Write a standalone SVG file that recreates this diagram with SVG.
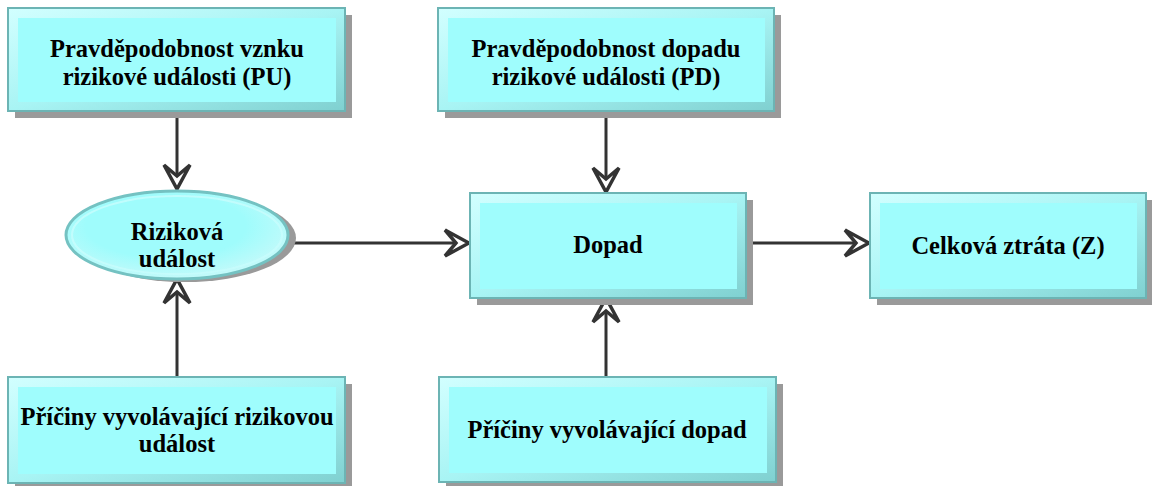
<svg xmlns="http://www.w3.org/2000/svg" width="1152" height="486" viewBox="0 0 1152 486">
  <defs>
    <linearGradient id="bevel" x1="0" y1="0" x2="1" y2="1">
      <stop offset="0" stop-color="#d2ffff"/>
      <stop offset="0.5" stop-color="#a8f4f4"/>
      <stop offset="1" stop-color="#7fd0d0"/>
    </linearGradient>
    <radialGradient id="ellFill" cx="0.45" cy="0.4" r="0.6">
      <stop offset="0.6" stop-color="#9ffcfc"/>
      <stop offset="1" stop-color="#c4fafa"/>
    </radialGradient>
    <marker id="chev" viewBox="-3 -16 30 32" refX="24" refY="0" markerWidth="30" markerHeight="32" markerUnits="userSpaceOnUse" orient="auto">
      <path d="M0,-13 L24,0 L0,13 L11,0 Z" fill="#ffffff" stroke="#333333" stroke-width="3.5" stroke-linejoin="miter"/>
    </marker>
  </defs>
  <style>
    .shadow { fill: #9a9a9a; }
    .outer { fill: url(#bevel); stroke: #6cb4b4; stroke-width: 2; }
    .inner { fill: #9ffdfd; }
    .label { font-family: 'Liberation Serif', 'Tinos', 'DejaVu Serif', serif; font-weight: 700; font-size: 24.5px; fill: #000000; text-anchor: middle; }
    .conn { stroke: #333333; stroke-width: 3; fill: none; marker-end: url(#chev); }
  </style>
  <rect width="1152" height="486" fill="#ffffff"/>

  <g id="connectors">
    <line class="conn" x1="177" y1="111" x2="177" y2="189"/>
    <line class="conn" x1="177" y1="377" x2="177" y2="279"/>
    <line class="conn" x1="289" y1="243" x2="469" y2="243"/>
    <line class="conn" x1="606" y1="112" x2="606" y2="192"/>
    <line class="conn" x1="606" y1="377" x2="606" y2="298"/>
    <line class="conn" x1="746" y1="243" x2="869" y2="243"/>
  </g>

  <g id="node-pu">
    <rect class="shadow" x="15" y="15" width="337" height="103"/>
    <rect class="outer" x="8" y="8" width="337" height="103"/>
    <rect class="inner" x="18" y="18" width="318" height="84"/>
    <text class="label" x="177" y="57">Pravděpodobnost vznku</text>
    <text class="label" x="177" y="85">rizikové události (PU)</text>
  </g>

  <g id="node-pd">
    <rect class="shadow" x="445" y="15" width="336" height="103"/>
    <rect class="outer" x="438" y="8" width="336" height="103"/>
    <rect class="inner" x="448" y="18" width="317" height="84"/>
    <text class="label" x="606" y="57">Pravděpodobnost dopadu</text>
    <text class="label" x="606" y="85">rizikové události (PD)</text>
  </g>

  <g id="node-udalost">
    <ellipse class="shadow" cx="185" cy="238" rx="111" ry="44"/>
    <ellipse cx="177" cy="235" rx="111" ry="44" fill="url(#ellFill)" stroke="#74c2c2" stroke-width="3"/>
    <ellipse cx="177" cy="235" rx="105" ry="39" fill="none" stroke="#c8fdfd" stroke-width="2" opacity="0.8"/>
    <text class="label" x="177" y="240">Riziková</text>
    <text class="label" x="177" y="267">událost</text>
  </g>

  <g id="node-dopad">
    <rect class="shadow" x="477" y="200" width="276" height="105"/>
    <rect class="outer" x="470" y="193" width="276" height="105"/>
    <rect class="inner" x="480" y="203" width="257" height="86"/>
    <text class="label" x="608" y="253">Dopad</text>
  </g>

  <g id="node-ztrata">
    <rect class="shadow" x="877" y="200" width="276" height="105"/>
    <rect class="outer" x="870" y="193" width="276" height="105"/>
    <rect class="inner" x="880" y="203" width="257" height="86"/>
    <text class="label" x="1008" y="254">Celková ztráta (Z)</text>
  </g>

  <g id="node-priciny-udalost">
    <rect class="shadow" x="15" y="384" width="337" height="106"/>
    <rect class="outer" x="8" y="377" width="337" height="106"/>
    <rect class="inner" x="18" y="387" width="318" height="87"/>
    <text class="label" x="177" y="425">Příčiny vyvolávající rizikovou</text>
    <text class="label" x="177" y="452">událost</text>
  </g>

  <g id="node-priciny-dopad">
    <rect class="shadow" x="446" y="384" width="337" height="106"/>
    <rect class="outer" x="439" y="377" width="337" height="105"/>
    <rect class="inner" x="449" y="387" width="318" height="86"/>
    <text class="label" x="607" y="438">Příčiny vyvolávající dopad</text>
  </g>
</svg>
